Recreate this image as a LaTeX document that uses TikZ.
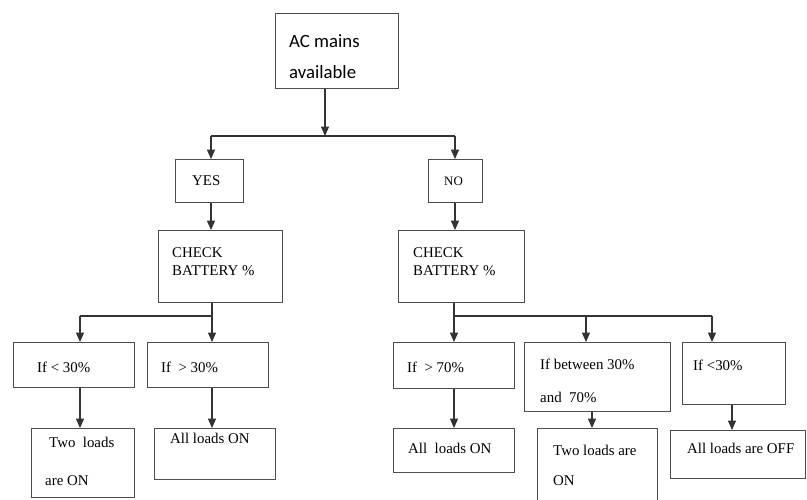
\documentclass[tikz,border=0pt]{standalone}
\usepackage{fontspec}
\setmainfont{Liberation Serif}
\newfontfamily\calfont{Carlito}
\usetikzlibrary{arrows.meta}

\begin{document}
\begin{tikzpicture}[x=0.03cm, y=-0.03cm]
	\tikzstyle{box} = [draw=black!70, line width=0.9pt, anchor=north west, inner sep=0pt]
	\tikzstyle{txt} = [anchor=base west, inner sep=0pt, font=\fontsize{12.7}{15}\selectfont]
	\tikzstyle{wire} = [draw=black!80, line width=0.9pt]
	\tikzstyle{arr} = [wire, -{Triangle[length=2.8mm,width=2.4mm]}]
	\useasboundingbox (0,0) rectangle (807,499);
	% boxes
	\node[box, minimum width=3.69cm, minimum height=2.25cm] (AC) at (275,13) {};
	\node[box, minimum width=2.04cm, minimum height=1.29cm] (YES) at (175,159) {};
	\node[box, minimum width=1.62cm, minimum height=1.29cm] (NO) at (428,159) {};
	\node[box, minimum width=3.72cm, minimum height=2.16cm] (CB1) at (158,230) {};
	\node[box, minimum width=3.78cm, minimum height=2.16cm] (CB2) at (398,230) {};
	\node[box, minimum width=3.63cm, minimum height=1.35cm] (L1) at (13,342) {};
	\node[box, minimum width=3.63cm, minimum height=1.35cm] (L2) at (147,342) {};
	\node[box, minimum width=3.63cm, minimum height=1.38cm] (R1) at (393,342) {};
	\node[box, minimum width=4.38cm, minimum height=2.07cm] (R2) at (524,342) {};
	\node[box, minimum width=3.09cm, minimum height=1.86cm] (R3) at (682,342) {};
	\node[box, minimum width=3.09cm, minimum height=2.07cm] (L3) at (31,428) {};
	\node[box, minimum width=3.63cm, minimum height=1.53cm] (L4) at (154,428) {};
	\node[box, minimum width=3.63cm, minimum height=1.32cm] (R4) at (393,428) {};
	\node[box, minimum width=3.60cm, minimum height=2.40cm] (R5) at (537,428) {};
	\node[box, minimum width=4.05cm, minimum height=1.44cm] (R6) at (670,430) {};
	% texts
	\node[txt, font=\calfont\fontsize{16}{18}\selectfont] (ACa) at (289,47) {AC mains};
	\node[txt, font=\calfont\fontsize{16}{18}\selectfont] (ACb) at (289,78) {available};
	\node[txt] (YESt) at (192,185) {YES};
	\node[txt, font=\fontsize{11}{13}\selectfont] (NOt) at (444,185) {NO};
	\node[txt] (CB1a) at (172,257) {CHECK};
	\node[txt] (CB1b) at (172,275) {BATTERY \%};
	\node[txt] (CB2a) at (413,257) {CHECK};
	\node[txt] (CB2b) at (413,275) {BATTERY \%};
	\node[txt] (L1t) at (37,372) {If < 30\%};
	\node[txt] (L2t) at (161,372) {If\ \ > 30\%};
	\node[txt] (R1t) at (407,372) {If\ \ > 70\%};
	\node[txt] (R2a) at (540,369) {If between 30\%};
	\node[txt] (R2b) at (540,402) {and\ \ 70\%};
	\node[txt] (R3t) at (693,370) {If <30\%};
	\node[txt] (L3a) at (49,447) {Two\ \ loads};
	\node[txt] (L3b) at (45,485) {are ON};
	\node[txt] (L4t) at (170,443) {All loads ON};
	\node[txt] (R4t) at (408,453) {All\ \ loads ON};
	\node[txt] (R5a) at (553,455) {Two loads are};
	\node[txt] (R5b) at (553,485) {ON};
	\node[txt] (R6t) at (687,453) {All loads are OFF};
	% joints
	\coordinate (J0) at (325,136);
	\coordinate (JL) at (211,136);
	\coordinate (JR) at (455,136);
	\coordinate (K0) at (80,316);
	\coordinate (K1) at (212,316);
	\coordinate (M1) at (454,316);
	\coordinate (M2) at (586,316);
	\coordinate (M3) at (712,316);
	\coordinate (N2) at (592,420);
	\coordinate (N3) at (732,420);
	% connectors
	\draw[arr] (AC.south -| J0) -- (J0);
	\draw[wire] (JL) -- (JR);
	\draw[arr] (JL) -- (JL |- YES.north);
	\draw[arr] (JR) -- (JR |- NO.north);
	\draw[arr] (YES.south -| JL) -- (JL |- CB1.north);
	\draw[arr] (NO.south -| JR) -- (JR |- CB2.north);
	\draw[wire] (CB1.south -| K1) -- (K1) -- (K0);
	\draw[arr] (K0) -- (K0 |- L1.north);
	\draw[arr] (K1) -- (K1 |- L2.north);
	\draw[arr] (L1.south -| K0) -- (K0 |- L3.north);
	\draw[arr] (L2.south -| K1) -- (K1 |- L4.north);
	\draw[wire] (CB2.south -| M1) -- (M1) -- (M3);
	\draw[arr] (M1) -- (M1 |- R1.north);
	\draw[arr] (M2) -- (M2 |- R2.north);
	\draw[arr] (M3) -- (M3 |- R3.north);
	\draw[arr] (R1.south -| M1) -- (M1 |- R4.north);
	\draw[arr] (R2.south -| N2) -- (N2 |- R5.north);
	\draw[arr] (R3.south -| N3) -- (N3 |- R6.north);
\end{tikzpicture}
\end{document}
